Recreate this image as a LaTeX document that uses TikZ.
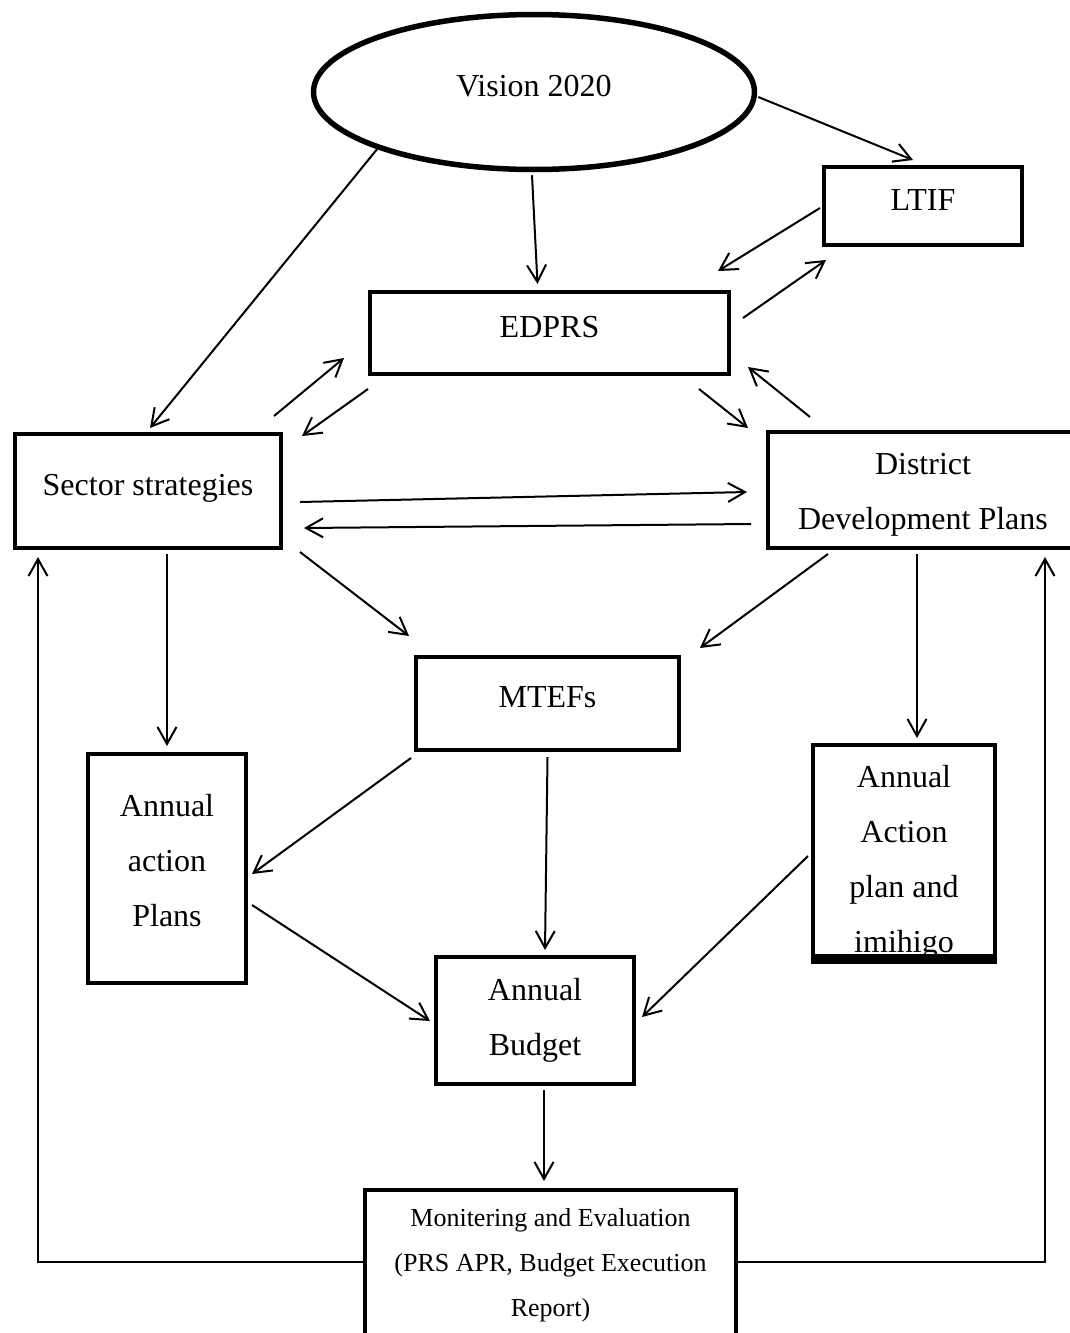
\documentclass[tikz,border=0pt]{standalone}
\usepackage{fontspec}
\setmainfont{Liberation Serif}
\usetikzlibrary{shapes.geometric,arrows.meta,calc}
\tikzset{
    every node/.style={font=\fontsize{16}{27.5}\selectfont, align=center},
    plan/.style={rectangle, draw, line width=2pt, inner sep=0pt},
    vision/.style={ellipse, draw, line width=2.75pt, inner sep=0pt},
    oneline/.style={text height=11pt, text depth=7pt},
    flow/.style={-{Straight Barb[length=8.5pt,width=9.5pt]}, line width=1pt},
    small/.style={font=\fontsize{13}{22.5}\selectfont}
}
\begin{document}
\begin{tikzpicture}[x=0.5pt, y=-0.5pt]
      \clip (0,0) rectangle (1070,1333);
      \node[vision, oneline, minimum width=220.5pt, minimum height=77.5pt] (Vision) at (534,92) {Vision 2020};
      \node[plan, oneline, minimum width=99pt, minimum height=39pt] (LTIF) at (923,206) {LTIF};
      \node[plan, oneline, minimum width=179.5pt, minimum height=41pt] (EDPRS) at (549.5,333) {EDPRS};
      \node[plan, oneline, minimum width=133pt, minimum height=57pt] (Sector) at (148,491) {Sector strategies};
      \node[plan, minimum width=155pt, minimum height=58pt] (District) at (923,490) {\rule{0pt}{15.5pt}District\\Development Plans};
      \node[plan, oneline, minimum width=131.5pt, minimum height=46.5pt] (MTEF) at (547.5,703.5) {MTEFs};
      \node[plan, minimum width=79pt, minimum height=114.5pt] (AnnAP) at (167,868.5) {Annual\\action\\Plans\rule[-8pt]{0pt}{8pt}};
      \node[plan, minimum width=91pt, minimum height=108pt] (Imihigo) at (904,853) {};
      \node[plan, minimum width=99pt, minimum height=63.5pt] (Budget) at (535,1020.5) {Annual\\Budget};
      \node[plan, small, minimum width=185.5pt, minimum height=75pt] (Monitor) at (550.5,1265) {Monitering and Evaluation\\(PRS APR, Budget Execution\\Report)};

      \begin{scope}
        \clip ($(Imihigo.north west)+(2,2)$) rectangle ($(Imihigo.south east)+(-2,-9)$);
        \node (ImihigoText) at (904,862.5) {Annual\\Action\\plan and\\imihigo};
      \end{scope}
      \draw[line width=5pt] ($(Imihigo.south west)+(0,-4)$) -- ($(Imihigo.south east)+(0,-4)$);

      \draw[flow] ($(Vision.east)+(1,5)$) -- ($(LTIF.north)+(-10,-5)$);
      \draw[flow] ($(Vision.south)+(-2,3)$) -- ($(EDPRS.north)+(-12,-6)$);
      \draw[flow] (Vision.200) -- ($(Sector.north)+(2,-4)$);
      \draw[flow] ($(LTIF.west)+(-2,2)$) -- ($(EDPRS.north east)+(-13,-19)$);
      \draw[flow] ($(EDPRS.east)+(12,-15)$) -- ($(LTIF.south west)+(4,13)$);
      \draw[flow] ($(Sector.north east)+(-9,-16)$) -- ($(EDPRS.south west)+(-24,-18)$);
      \draw[flow] ($(EDPRS.south west)+(0,13)$) -- ($(Sector.north east)+(19,4)$);
      \draw[flow] ($(EDPRS.south east)+(-32,13)$) -- ($(District.north west)+(-18,-2)$);
      \draw[flow] ($(District.north west)+(44,-13)$) -- ($(EDPRS.south east)+(17,-9)$);
      \draw[flow] ($(Sector.east)+(17,11)$) -- ($(District.west)+(-19,2)$);
      \draw[flow] ($(District.west)+(-15,34)$) -- ($(Sector.east)+(21,37)$);
      \draw[flow] ($(Sector.south east)+(17,2)$) -- ($(MTEF.north west)+(-5,-19)$);
      \draw[flow] ($(District.south west)+(62,4)$) -- ($(MTEF.north east)+(19,-7)$);
      \draw[flow] ($(Sector.south)+(19,4)$) -- ($(AnnAP.north)+(0,-6)$);
      \draw[flow] ($(District.south)+(-6,4)$) -- ($(Imihigo.north)+(13,-5)$);
      \draw[flow] ($(MTEF.south west)+(-3,6)$) -- ($(AnnAP.east)+(4,5.5)$);
      \draw[flow] ($(MTEF.south)+(0,5)$) -- ($(Budget.north)+(10,-5)$);
      \draw[flow] ($(AnnAP.east)+(4,36.5)$) -- ($(Budget.west)+(-4,0.5)$);
      \draw[flow] ($(Imihigo.west)+(-3,3)$) -- ($(Budget.east)+(6,-3.5)$);
      \draw[flow] ($(Budget.south)+(9,4)$) -- ($(Monitor.north)+(-6.5,-7)$);
      \draw[flow] ($(Monitor.west)+(0,-3)$) -| ($(Sector.south west)+(25,7)$);
      \draw[flow] ($(Monitor.east)+(0,-3)$) -| ($(District.south east)+(-35,7)$);
\end{tikzpicture}
\end{document}
